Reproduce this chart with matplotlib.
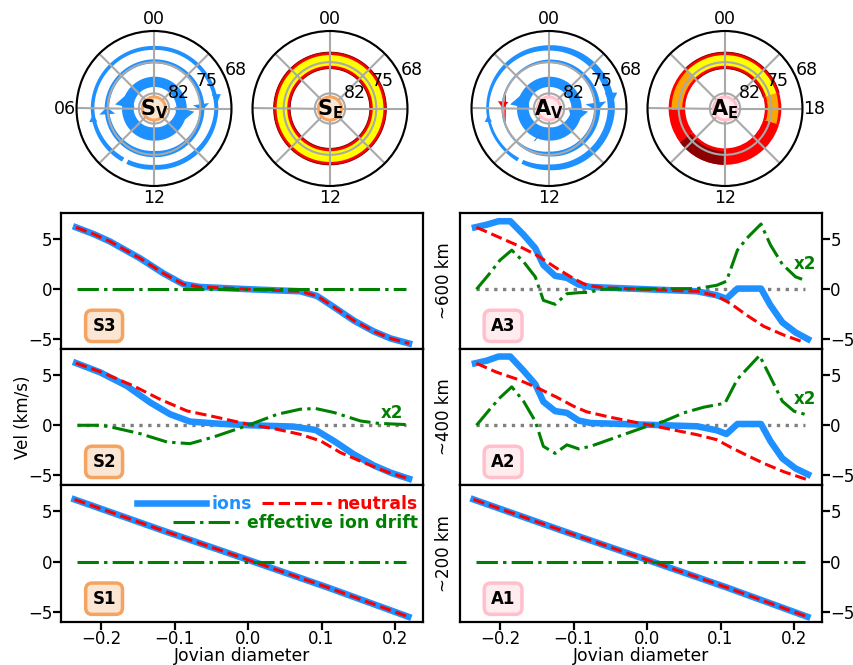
import matplotlib
matplotlib.use('Agg')
import matplotlib.pyplot as plt
import numpy as np
from matplotlib.patches import Circle

W, H = 854, 665
FS = 12
BLUE = 'dodgerblue'
GREEN = 'green'
SAND = 'sandybrown'
PINK = 'pink'

# ---- line panels, values
s1_x = [-0.236, -0.118, 0.0, 0.109, 0.218]
s1_v = [6.17, 3.15, 0.2, -2.55, -5.43]
zero_x = [-0.232, 0.215]
zero_v = [0, 0]

s3_x = [-0.234, -0.21, -0.188, -0.147, -0.115, -0.088, -0.065, 0.003, 0.071, 0.094, 0.117, 0.144, 0.171, 0.194, 0.219]
s3_ions = [6.17, 5.5, 4.77, 3.09, 1.58, 0.5, 0.23, 0.0, -0.2, -0.67, -1.78, -3.12, -4.2, -4.9, -5.4]

s2_ions_x = [-0.234, -0.201, -0.165, -0.133, -0.106, -0.079, -0.042, 0.003, 0.062, 0.092, 0.117, 0.144, 0.171, 0.195, 0.219]
s2_ions = [6.2, 5.27, 3.93, 2.27, 1.1, 0.37, 0.17, 0.0, -0.13, -0.47, -1.57, -2.9, -4.0, -4.75, -5.33]
s2_neut_x = [-0.234, -0.201, -0.156, -0.12, -0.083, -0.047, 0.0, 0.035, 0.071, 0.099, 0.126, 0.158, 0.19, 0.219]
s2_neut = [6.2, 5.33, 3.93, 2.6, 1.43, 0.87, 0.1, -0.33, -0.9, -1.57, -2.73, -3.73, -4.67, -5.33]
s2_drift_x = [-0.232, -0.2, -0.183, -0.147, -0.11, -0.079, -0.047, 0.0, 0.04, 0.071, 0.092, 0.117, 0.153, 0.176, 0.215]
s2_drift = [0, 0, -0.23, -0.83, -1.67, -1.83, -1.17, 0, 1.1, 1.6, 1.67, 1.27, 0.43, 0.2, 0.07]

a_ions_x = [-0.234, -0.218, -0.202, -0.186, -0.168, -0.152, -0.141, -0.125, -0.109, -0.093, -0.077,
            0.068, 0.095, 0.108, 0.123, 0.155, 0.168, 0.184, 0.202, 0.219]
a3_ions = [6.17, 6.44, 6.78, 6.78, 5.44, 4.09, 2.42, 1.34, 1.14, 0.47, 0.23,
           -0.2, -0.6, -0.94, 0.07, 0.07, -1.61, -3.29, -4.3, -4.97]
a2_ions = [6.17, 6.44, 6.85, 6.85, 5.44, 4.09, 2.35, 1.41, 1.24, 0.47, 0.23,
           -0.1, -0.5, -0.87, 0.13, 0.13, -1.6, -3.29, -4.3, -4.9]
a3_neut_x = [-0.232, -0.205, -0.177, -0.15, -0.123, -0.1, -0.082, -0.059, 0.068, 0.095, 0.114, 0.136, 0.159, 0.186, 0.214]
a3_neut = [6.17, 5.3, 4.4, 3.4, 2.1, 1.07, 0.4, 0.15, -0.2, -0.67, -1.44, -2.6, -3.7, -4.56, -5.3]
a2_neut_x = [-0.232, -0.205, -0.177, -0.15, -0.123, -0.1, -0.082, -0.05, -0.023, 0.0, 0.023, 0.068, 0.095, 0.114, 0.136, 0.159, 0.186, 0.216]
a2_neut = [6.17, 5.3, 4.6, 3.76, 2.8, 1.9, 1.34, 0.8, 0.4, 0.07, -0.27, -0.94, -1.44, -2.2, -3.0, -3.8, -4.63, -5.37]
a3_drift_x = [-0.232, -0.214, -0.2, -0.184, -0.168, -0.152, -0.141, -0.125, -0.109, -0.093, -0.077, -0.064,
              0.068, 0.095, 0.108, 0.123, 0.136, 0.155, 0.168, 0.184, 0.202, 0.211]
a3_drift = [0, 1.58, 2.9, 3.9, 2.75, 1.24, -1.1, -1.5, -0.44, -0.34, -0.3, 0,
            0.07, 0.4, 0.8, 3.9, 5.1, 6.5, 4.4, 2.5, 1.24, 1.0]
a2_drift_x = [-0.232, -0.214, -0.2, -0.184, -0.168, -0.152, -0.141, -0.125, -0.109, -0.093, -0.077, 0.0,
              0.023, 0.05, 0.077, 0.106, 0.123, 0.153, 0.168, 0.184, 0.2, 0.216]
a2_drift = [0, 1.58, 2.75, 3.83, 2.4, 0.4, -2.1, -2.8, -1.95, -2.35, -2.1, -0.1,
            0.4, 1.24, 1.8, 2.2, 4.6, 6.95, 4.77, 2.4, 1.4, 1.07]

# ---- polar panels: colatitude = 90 - latitude, hours run counter clockwise from the top
ring_hours = [0, 3, 6, 9, 12, 15, 18, 21, 24]
r1_center = [10.7, 10.7, 10.6, 10.4, 10.2, 10.4, 10.7, 10.7, 10.7]
r2_center = [15.3, 15.3, 15.3, 15.0, 14.7, 15.0, 15.3, 15.3, 15.3]
r3_center = [18.2, 18.3, 18.4, 18.1, 17.8, 18.2, 18.6, 18.4, 18.2]
sv_r1_w = [2.3, 2.3, 2.6, 2.8, 3.0, 2.8, 2.3, 2.3, 2.3]
sv_r2_w = [0.9, 0.9, 1.0, 1.2, 1.4, 1.2, 1.0, 0.9, 0.9]
sv_r3_w = [0.9, 0.8, 0.8, 1.0, 1.1, 1.1, 0.9, 0.9, 0.9]
av_r1_w = [2.3, 2.3, 2.6, 2.8, 3.0, 2.8, 2.3, 2.3, 2.3]
av_r2_w = [0.8, 0.3, 0.15, 0.5, 1.1, 1.3, 1.4, 1.0, 0.8]
av_r3_w = [1.2, 0.9, 0.6, 0.7, 1.3, 1.5, 1.6, 1.5, 1.2]
ring_gap = (9.95, 10.2)

# tip hour, tip colat, base hour, base colat, head length, head half width (points)
sv_arrows = [(17.7, 13.7, 16.6, 9.5, 13, 6.5), (5.6, 13.4, 4.3, 9.3, 13, 6.5),
             (17.8, 15.4, 18.5, 15.2, 5, 5.8), (5.9, 15.2, 6.6, 15.2, 5, 5.8),
             (18.2, 18.6, 18.9, 19.0, 8, 3.2), (6.4, 18.4, 6.9, 18.6, 5, 3.0)]
av_arrows = [(17.7, 13.4, 16.6, 9.5, 13, 6.5), (5.6, 13.4, 4.3, 9.3, 13, 6.5),
             (17.8, 15.4, 18.6, 15.2, 6, 7.5), (18.2, 18.6, 19.0, 19.0, 9, 4.5),
             (6.4, 18.4, 6.9, 18.6, 5, 2.6)]
red_arc_hours = [4.7, 7.2]
red_arc_r = [15.0, 15.0]
red_arrow = (6.0, 15.0, 5.4, 15.0, 5, 3.8)
stray_hours = [10.4, 10.8]
stray_r = [12.5, 10.3]

band_in, band_core_in, band_core_out, band_out = 13.55, 14.2, 16.6, 17.25
se_edges = [0, 24]
se_colors = ['yellow']
ae_edges = [3, 6.1, 8.45, 11.9, 16.9, 19.1, 27]
ae_colors = ['orange', 'red', 'darkred', 'red', 'orange', 'yellow']

r_min, r_max = 4.6, 22
r_ticks = [8, 15, 22]
pole_lats = ['82', '75', '68']
pole_hours = [0, 3, 6, 9, 12, 15, 18, 21]


def h2t(h):
    return np.deg2rad(np.asarray(h, dtype=float) * 15)


def px_axes(x0, x1, top, bottom, **kw):
    return fig.add_axes([x0 / W, (H - bottom) / H, (x1 - x0) / W, (bottom - top) / H], **kw)


def draw_ring(ax, center, widths, gap=None):
    hh = np.linspace(0, 24, 400)
    c = np.interp(hh, ring_hours, center)
    w = np.interp(hh, ring_hours, widths)
    where = np.ones_like(hh, dtype=bool) if gap is None else ~((hh > gap[0]) & (hh < gap[1]))
    ax.fill_between(h2t(hh), c - w / 2, c + w / 2, where=where, color=BLUE, lw=0, zorder=1.5)


def draw_arrow(ax, spec, color=BLUE):
    th, tr, bh, br, hl, hw = spec
    ax.annotate('', xy=(h2t(th), tr), xytext=(h2t(bh), br), zorder=1.6,
                arrowprops=dict(arrowstyle='-|>,head_length=%g,head_width=%g' % (hl, hw),
                                mutation_scale=1, color=color, lw=0, shrinkA=0, shrinkB=0))


def draw_band(ax, edges, colors):
    for h0, h1, col in zip(edges[:-1], edges[1:], colors):
        t0, t1 = h2t(h0), h2t(h1)
        ax.bar(t0, band_out - band_in, width=t1 - t0, bottom=band_in, align='edge', color='red', lw=0, zorder=1.2)
        top = band_out if col == 'darkred' else band_core_out
        ax.bar(t0, top - band_core_in, width=t1 - t0, bottom=band_core_in, align='edge', color=col, lw=0, zorder=1.3)
        if col == 'yellow':
            tt = np.linspace(t0, t1, 200)
            ax.plot(tt, np.full_like(tt, band_out), color='darkred', lw=0.7, zorder=1.4)
            ax.plot(tt, np.full_like(tt, band_in), color='darkred', lw=0.7, zorder=1.4)


def pole_panel(cx, name, sub, edge, face, shown):
    ax = px_axes(cx - 77.5, cx + 77.5, 31, 186, projection='polar')
    ax.set_theta_zero_location('N')
    ax.set_ylim(r_min, r_max)
    ax.set_yticks(r_ticks)
    ax.set_yticklabels([])
    ax.set_xticks(h2t(pole_hours))
    ax.set_xticklabels(['%02d' % h if h in shown else '' for h in pole_hours], fontsize=12.5)
    ax.tick_params(axis='x', pad=1.5, length=0)
    ax.set_axisbelow(False)
    ax.grid(True, color='darkgray', lw=1.5)
    ax.spines['polar'].set_linewidth(1.5)
    ax.spines['polar'].set_zorder(5)
    for lab, dx, dy in zip(pole_lats, [25, 53, 82], [16, 27, 38.7]):
        ax.text(0.5 + dx / 155, 0.5 + dy / 155, lab, transform=ax.transAxes, fontsize=12.5,
                ha='center', va='center', zorder=6)
    ax.add_patch(Circle((0.5, 0.5), 0.075, transform=ax.transAxes, fc=face, ec=edge, lw=2.2, zorder=5))
    ax.text(0.5, 0.495, '$\\mathbf{%s_{%s}}$' % (name, sub), transform=ax.transAxes, fontsize=15,
            ha='center', va='center', zorder=6)
    return ax


def line_panel(x0, x1, top, bottom, label, edge, face, right=False, last=False):
    ax = px_axes(x0, x1, top, bottom)
    ax.set_xlim(-0.2544, 0.238)
    ax.set_ylim(-5.95, 7.6)
    ax.set_xticks([-0.2, -0.1, 0.0, 0.1, 0.2])
    ax.set_yticks([-5, 0, 5])
    ax.tick_params(width=1.6, length=5.5, labelsize=FS, pad=0.5)
    if not last:
        ax.tick_params(labelbottom=False)
    else:
        ax.set_xlabel('Jovian diameter', fontsize=12.4, labelpad=-1)
    if right:
        ax.yaxis.tick_right()
    for s in ax.spines.values():
        s.set_linewidth(1.6)
    ax.text(0.119, 0.17, label, transform=ax.transAxes, fontsize=FS, fontweight='bold',
            ha='center', va='center', zorder=6,
            bbox=dict(boxstyle='round,pad=0.4', fc=face, ec=edge, lw=2.5))
    return ax


def draw_lines(ax, ix, iv, nx, nv, dx, dv, dotted=True):
    if dotted:
        ax.plot(zero_x, zero_v, color='gray', ls=':', lw=2.4, zorder=1)
    ions, = ax.plot(ix, iv, color=BLUE, lw=4.7, label='ions', zorder=2)
    neut, = ax.plot(nx, nv, color='red', ls='--', lw=2.2, label='neutrals', zorder=3)
    drift, = ax.plot(dx, dv, color=GREEN, lw=2.2, dashes=(7, 1.7, 1.1, 1.7), label='effective ion drift', zorder=4)
    return ions, neut, drift


fig = plt.figure(figsize=(W / 100, H / 100), dpi=100)

# poles
sv = pole_panel(154, 'S', 'V', SAND, '#fbe6d3', [0, 6, 12])
draw_ring(sv, r1_center, sv_r1_w)
draw_ring(sv, r2_center, sv_r2_w)
draw_ring(sv, r3_center, sv_r3_w, ring_gap)
for a in sv_arrows:
    draw_arrow(sv, a)

se = pole_panel(330, 'S', 'E', SAND, '#fbe6d3', [0, 12])
draw_band(se, se_edges, se_colors)

av = pole_panel(549, 'A', 'V', PINK, '#ffecef', [0, 12])
draw_ring(av, r1_center, av_r1_w)
draw_ring(av, r2_center, av_r2_w)
draw_ring(av, r3_center, av_r3_w, ring_gap)
for a in av_arrows:
    draw_arrow(av, a)
av.plot(h2t(red_arc_hours), red_arc_r, color='red', lw=1, zorder=1.7)
draw_arrow(av, red_arrow, 'red')
av.plot(h2t(stray_hours), stray_r, color='steelblue', lw=0.8, zorder=1.7)

ae = pole_panel(725, 'A', 'E', PINK, '#ffecef', [0, 12, 18])
draw_band(ae, ae_edges, ae_colors)

# left column
tops = [213, 349, 485]
bottoms = [349, 485, 622]
s3 = line_panel(61, 423, tops[0], bottoms[0], 'S3', SAND, '#fbe6d3')
draw_lines(s3, s3_x, s3_ions, s3_x, s3_ions, zero_x, zero_v, dotted=False)

s2 = line_panel(61, 423, tops[1], bottoms[1], 'S2', SAND, '#fbe6d3')
draw_lines(s2, s2_ions_x, s2_ions, s2_neut_x, s2_neut, s2_drift_x, s2_drift)
s2.text(0.196, 1.25, 'x2', color=GREEN, fontsize=FS, fontweight='bold', ha='center', va='center')
s2.set_ylabel('Vel (km/s)', fontsize=FS, labelpad=-3)

s1 = line_panel(61, 423, tops[2], bottoms[2], 'S1', SAND, '#fbe6d3', last=True)
ions, neut, drift = draw_lines(s1, s1_x, s1_v, s1_x, s1_v, zero_x, zero_v, dotted=False)
leg_kw = dict(frameon=False, labelcolor='linecolor', prop={'weight': 'bold', 'size': 12.4}, handlelength=4.0,
              handletextpad=0.3, columnspacing=0.6, borderaxespad=0, borderpad=0)
leg1 = s1.legend(handles=[ions, neut], ncol=2, loc='upper right', bbox_to_anchor=(0.985, 0.93), **leg_kw)
s1.add_artist(leg1)
s1.legend(handles=[drift], loc='upper right', bbox_to_anchor=(0.985, 0.785), **leg_kw)

# right column
a3 = line_panel(460, 822, tops[0], bottoms[0], 'A3', PINK, '#ffecef', right=True)
draw_lines(a3, a_ions_x, a3_ions, a3_neut_x, a3_neut, a3_drift_x, a3_drift)
a3.text(0.215, 2.5, 'x2', color=GREEN, fontsize=FS, fontweight='bold', ha='center', va='center')
a3.set_ylabel('~600 km', fontsize=FS, labelpad=5)

a2 = line_panel(460, 822, tops[1], bottoms[1], 'A2', PINK, '#ffecef', right=True)
draw_lines(a2, a_ions_x, a2_ions, a2_neut_x, a2_neut, a2_drift_x, a2_drift)
a2.text(0.215, 2.58, 'x2', color=GREEN, fontsize=FS, fontweight='bold', ha='center', va='center')
a2.set_ylabel('~400 km', fontsize=FS, labelpad=5)

a1 = line_panel(460, 822, tops[2], bottoms[2], 'A1', PINK, '#ffecef', right=True, last=True)
draw_lines(a1, s1_x, s1_v, s1_x, s1_v, zero_x, zero_v, dotted=False)
a1.set_ylabel('~200 km', fontsize=FS, labelpad=5)

fig.savefig('out.png', dpi=100)
